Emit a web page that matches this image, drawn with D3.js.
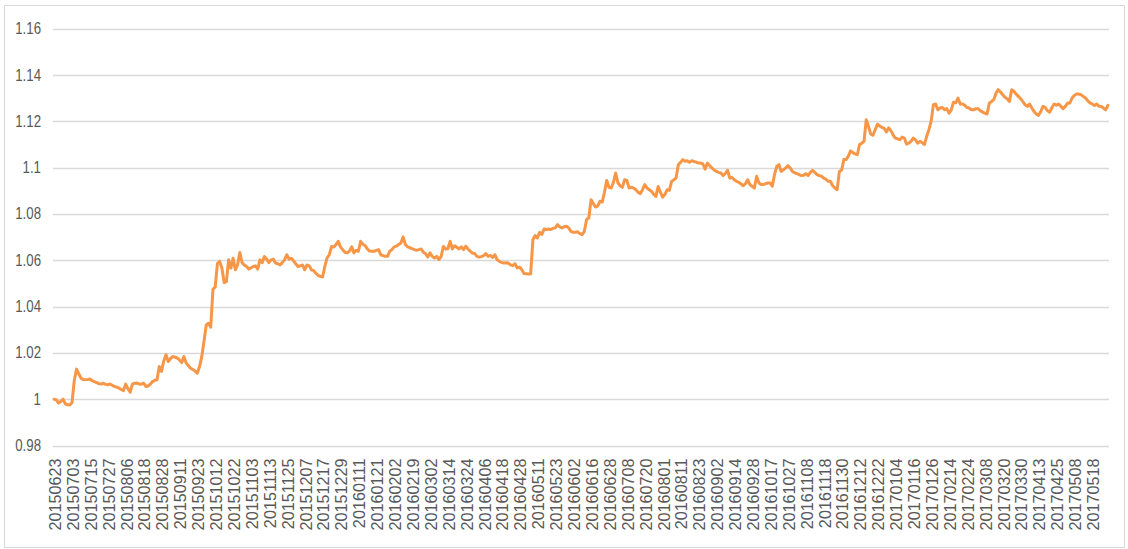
<!DOCTYPE html>
<html>
<head>
<meta charset="utf-8">
<script src="https://cdn.jsdelivr.net/npm/d3@7"></script>
<style>
  html, body { margin: 0; padding: 0; background: #fff; }
  svg { display: block; }
</style>
</head>
<body>
<svg id="chart" width="1128" height="549"></svg>
<script>
// ---- data ----
const tickLabels = [
  "20150623","20150703","20150715","20150727","20150806","20150818","20150828","20150911","20150923","20151012",
  "20151022","20151103","20151113","20151125","20151207","20151217","20151229","20160111","20160121","20160202",
  "20160219","20160302","20160314","20160324","20160406","20160418","20160428","20160511","20160523","20160602",
  "20160616","20160628","20160708","20160720","20160801","20160811","20160823","20160902","20160914","20160928",
  "20161017","20161027","20161108","20161118","20161130","20161212","20161222","20170104","20170116","20170126",
  "20170214","20170224","20170308","20170320","20170330","20170413","20170425","20170508","20170518"
];
const tickEvery = 8; // trading days between labelled categories

const yTickValues = [0.98, 1.00, 1.02, 1.04, 1.06, 1.08, 1.10, 1.12, 1.14, 1.16];
const yTickLabels = ["0.98", "1", "1.02", "1.04", "1.06", "1.08", "1.1", "1.12", "1.14", "1.16"];

const values = [
  1.0000,0.9997,0.9983,0.9990,1.0000,0.9980,0.9976,0.9975,0.9985,1.0080,
  1.0130,1.0110,1.0091,1.0085,1.0084,1.0085,1.0087,1.0080,1.0076,1.0072,
  1.0067,1.0065,1.0069,1.0064,1.0062,1.0066,1.0060,1.0055,1.0052,1.0048,
  1.0042,1.0037,1.0065,1.0045,1.0030,1.0065,1.0069,1.0070,1.0066,1.0065,
  1.0069,1.0055,1.0057,1.0065,1.0076,1.0082,1.0084,1.0141,1.0120,1.0165,
  1.0192,1.0163,1.0175,1.0184,1.0182,1.0178,1.0170,1.0158,1.0184,1.0156,
  1.0145,1.0134,1.0128,1.0122,1.0112,1.0141,1.0184,1.0250,1.0321,1.0328,
  1.0311,1.0475,1.0484,1.0587,1.0595,1.0566,1.0504,1.0508,1.0602,1.0566,
  1.0609,1.0559,1.0580,1.0634,1.0590,1.0580,1.0573,1.0562,1.0568,1.0573,
  1.0576,1.0562,1.0602,1.0590,1.0616,1.0605,1.0590,1.0602,1.0605,1.0588,
  1.0585,1.0580,1.0590,1.0602,1.0624,1.0605,1.0609,1.0598,1.0585,1.0573,
  1.0576,1.0580,1.0559,1.0580,1.0576,1.0559,1.0555,1.0544,1.0535,1.0531,
  1.0528,1.0574,1.0610,1.0624,1.0660,1.0657,1.0668,1.0682,1.0658,1.0646,
  1.0635,1.0632,1.0640,1.0658,1.0632,1.0643,1.0639,1.0682,1.0670,1.0663,
  1.0649,1.0640,1.0639,1.0639,1.0643,1.0646,1.0624,1.0620,1.0617,1.0617,
  1.0639,1.0646,1.0658,1.0661,1.0668,1.0675,1.0701,1.0668,1.0658,1.0655,
  1.0650,1.0646,1.0643,1.0646,1.0649,1.0635,1.0629,1.0614,1.0632,1.0617,
  1.0610,1.0617,1.0603,1.0617,1.0660,1.0649,1.0650,1.0682,1.0649,1.0663,
  1.0656,1.0649,1.0658,1.0646,1.0661,1.0649,1.0639,1.0631,1.0629,1.0617,
  1.0614,1.0616,1.0620,1.0629,1.0617,1.0621,1.0612,1.0624,1.0603,1.0595,
  1.0591,1.0588,1.0589,1.0588,1.0580,1.0577,1.0585,1.0567,1.0571,1.0560,
  1.0543,1.0542,1.0541,1.0541,1.0689,1.0707,1.0697,1.0721,1.0712,1.0735,
  1.0733,1.0735,1.0733,1.0738,1.0740,1.0754,1.0744,1.0740,1.0745,1.0747,
  1.0740,1.0725,1.0721,1.0721,1.0723,1.0715,1.0711,1.0725,1.0776,1.0783,
  1.0862,1.0845,1.0830,1.0835,1.0855,1.0852,1.0894,1.0945,1.0915,1.0912,
  1.0937,1.0977,1.0935,1.0922,1.0915,1.0948,1.0945,1.0912,1.0916,1.0912,
  1.0905,1.0894,1.0888,1.0905,1.0927,1.0912,1.0905,1.0898,1.0885,1.0876,
  1.0919,1.0894,1.0873,1.0884,1.0905,1.0902,1.0941,1.0948,1.0955,1.1013,
  1.1023,1.1035,1.1028,1.1030,1.1023,1.1030,1.1027,1.1024,1.1020,1.1020,
  1.1016,1.0994,1.1020,1.1009,1.0999,1.0990,1.0984,1.0980,1.0977,1.0966,
  1.0975,1.0989,1.0955,1.0958,1.0948,1.0941,1.0937,1.0930,1.0922,1.0931,
  1.0948,1.0927,1.0920,1.0912,1.0963,1.0935,1.0927,1.0927,1.0931,1.0934,
  1.0934,1.0920,1.0970,1.1006,1.1013,1.0984,1.0991,1.0999,1.1009,1.0999,
  1.0984,1.0978,1.0974,1.0970,1.0966,1.0967,1.0974,1.0966,1.0980,1.0989,
  1.0980,1.0970,1.0966,1.0963,1.0955,1.0950,1.0941,1.0941,1.0922,1.0912,
  1.0905,1.0984,1.0990,1.1035,1.1035,1.1050,1.1073,1.1065,1.1060,1.1056,
  1.1100,1.1106,1.1114,1.1207,1.1178,1.1145,1.1140,1.1164,1.1188,1.1180,
  1.1174,1.1170,1.1154,1.1172,1.1160,1.1142,1.1128,1.1125,1.1121,1.1132,
  1.1128,1.1102,1.1106,1.1114,1.1128,1.1120,1.1106,1.1114,1.1108,1.1100,
  1.1135,1.1164,1.1200,1.1272,1.1275,1.1250,1.1258,1.1260,1.1250,1.1255,
  1.1236,1.1250,1.1283,1.1280,1.1301,1.1275,1.1275,1.1270,1.1260,1.1258,
  1.1250,1.1250,1.1255,1.1255,1.1246,1.1240,1.1236,1.1232,1.1279,1.1286,
  1.1294,1.1322,1.1337,1.1327,1.1315,1.1304,1.1298,1.1286,1.1337,1.1330,
  1.1318,1.1308,1.1298,1.1285,1.1272,1.1265,1.1275,1.1258,1.1243,1.1232,
  1.1226,1.1243,1.1265,1.1260,1.1246,1.1240,1.1260,1.1275,1.1270,1.1275,
  1.1265,1.1255,1.1265,1.1279,1.1279,1.1301,1.1312,1.1318,1.1318,1.1315,
  1.1308,1.1301,1.1289,1.1280,1.1275,1.1269,1.1275,1.1265,1.1265,1.1258,
  1.1250,1.1269
];

// ---- layout ----
const svg = d3.select("#chart");
const plot = { left: 53, right: 1109, top: 28.8, bottom: 445.5 };
const gridColor = "#D9D9D9";
const textColor = "#595959";
const lineColor = "#F79646";

// outer border
svg.append("rect")
  .attr("x", 4.5).attr("y", 5.5)
  .attr("width", 1120).attr("height", 542)
  .attr("fill", "#fff").attr("stroke", gridColor).attr("stroke-width", 1);

const idx = d3.range(values.length);
const x = d3.scaleBand().domain(idx).range([plot.left, plot.right]).paddingInner(0).paddingOuter(0);
const y = d3.scaleLinear().domain([0.98, 1.16]).range([plot.bottom, plot.top]);
const cx = i => x(i) + x.bandwidth() / 2;

// gridlines
svg.append("g").selectAll("line")
  .data(yTickValues)
  .join("line")
  .attr("x1", plot.left).attr("x2", plot.right)
  .attr("y1", d => Math.round(y(d)) + 0.5).attr("y2", d => Math.round(y(d)) + 0.5)
  .attr("stroke", gridColor).attr("stroke-width", 1.3);

// y axis
const yAxis = d3.axisLeft(y)
  .tickValues(yTickValues)
  .tickFormat((d, k) => yTickLabels[k])
  .tickSize(0).tickPadding(0);
const gy = svg.append("g").attr("transform", "translate(41,0)").call(yAxis);
gy.select(".domain").remove();
gy.selectAll("text")
  .attr("fill", textColor)
  .attr("font-family", "'Liberation Sans', Arial, sans-serif")
  .attr("font-size", 17)
  .attr("x", null)
  .attr("text-anchor", "end")
  .attr("transform", "scale(0.78,1)");
gy.selectAll(".tick").each(function(d) {
  d3.select(this).attr("transform", `translate(0,${y(d)})`);
});

// x axis (category labels every 8 trading days)
const xTickIdx = tickLabels.map((_, k) => k * tickEvery);
const xAxis = d3.axisBottom(x)
  .tickValues(xTickIdx)
  .tickFormat(i => tickLabels[i / tickEvery])
  .tickSize(0).tickPadding(0);
const gx = svg.append("g").attr("transform", `translate(0,${plot.bottom})`).call(xAxis);
gx.select(".domain").remove();
gx.selectAll("text")
  .attr("fill", textColor)
  .attr("font-family", "'Liberation Sans', Arial, sans-serif")
  .attr("font-size", 16.2)
  .attr("text-anchor", "end")
  .attr("transform", "rotate(-90)")
  .attr("x", -13)
  .attr("y", 1)
  .attr("dy", "0.36em");

// line
const line = d3.line()
  .x((d, i) => cx(i))
  .y(d => y(d))
  .curve(d3.curveLinear);
svg.append("path")
  .datum(values)
  .attr("d", line)
  .attr("fill", "none")
  .attr("stroke", lineColor)
  .attr("stroke-width", 3)
  .attr("stroke-linejoin", "round")
  .attr("stroke-linecap", "round");
</script>
</body>
</html>
